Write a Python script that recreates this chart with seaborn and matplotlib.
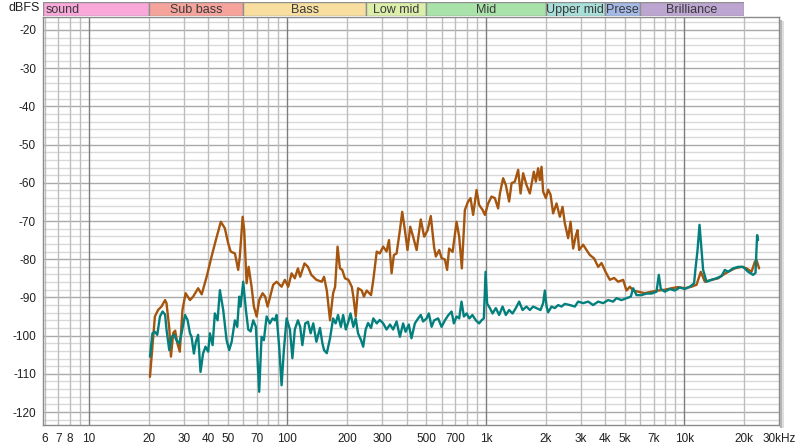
import matplotlib
matplotlib.use("Agg")
import matplotlib.pyplot as plt
import seaborn as sns
from matplotlib.patches import Rectangle
from matplotlib.ticker import NullLocator, NullFormatter

sns.set_theme(style="white")
plt.rcParams['font.family'] = ['Liberation Sans', 'DejaVu Sans']

# ── data ─────────────────────────────────────────────────────
orange_hz = [20.3, 20.7, 21.5, 22.3, 23.2, 24.2, 24.6, 25.4, 25.9, 26.6, 27.2, 27.9, 28.7, 29.6,
             30.7, 32.3, 33.5, 35.5, 37.0, 39.2, 41.5, 43.6, 46.2, 48.4, 50.3, 51.8, 54.4, 56.5,
             57.6, 59.5, 60.6, 62.3, 63.8, 66.0, 67.8, 70.0, 72.1, 75.0, 77.3, 79.5, 84.8, 88.2,
             93.5, 97.1, 101, 105, 109, 113, 116, 122, 127, 132, 140, 149, 153, 158, 164, 170,
             174, 179, 184, 189, 195, 203, 211, 215, 221, 227, 237, 243, 251, 264, 271, 282,
             292, 304, 316, 325, 335, 344, 355, 369, 379, 391, 403, 416, 430, 448, 470, 489,
             509, 528, 549, 560, 582, 598, 622, 638, 653, 680, 712, 734, 757, 784, 814, 837,
             863, 898, 925, 963, 989, 1027, 1068, 1110, 1153, 1177, 1222, 1261, 1310, 1348,
             1400, 1455, 1496, 1542, 1603, 1666, 1745, 1786, 1834, 1871, 1908, 1944, 2006,
             2060, 2118, 2183, 2271, 2360, 2435, 2500, 2598, 2672, 2754, 2842, 2897, 2951,
             3092, 3216, 3342, 3513, 3680, 3828, 4009, 4214, 4429, 4640, 4917, 5114, 5314,
             5522, 5851, 6324, 6836, 7379, 7978, 8620, 9308, 10060, 10870, 11520, 12110,
             12690, 13710, 14800, 15690, 16620, 17970, 19420, 20580, 21810, 22660, 23100, 23820]
orange_db = [-110.8, -105.5, -95, -93.3, -92.4, -90.7, -91.5, -98, -105.5, -99.3, -98.7, -102, -104.2, -93.3,
             -88.9, -90.7, -89.8, -87.6, -89.2, -84.6, -79.3, -75, -70.2, -71.9, -75.8, -78, -78.5, -82.8,
             -79.3, -68.9, -72.4, -86.3, -82, -87.2, -92.4, -95, -90.7, -88.9, -89.8, -92.4, -86.7, -85.9,
             -87.2, -85.4, -87.2, -83.7, -85, -82.4, -84.6, -81.1, -82, -84.1, -85.4, -85.9, -84.6, -88.2, -96, -88.9,
             -87.2, -76.7, -82.4, -82.8, -85, -85.4, -87.2, -89.8, -95, -87.6, -88.2, -89.8, -88.2, -89.4, -85.4, -78,
             -78.5, -76.7, -78, -75, -83.7, -78.9, -78.5, -72.4, -67.6, -72.4, -77.6, -71.5, -74.1, -77.6, -69.6, -74.1,
             -72.4, -68.7, -77, -79.3, -77.6, -79.7, -80.1, -82.8, -77.2, -78.1, -70.2, -74.1, -82.4, -67.1, -64.9, -64,
             -68.4, -61.9, -65.8, -67.1, -68.4, -65.4, -63.6, -64, -66.7, -62.8, -58.8, -60.6, -64.9, -60.1,
             -59.7, -56.6, -62.8, -57.5, -60.6, -62.8, -57.1, -59.7, -56.2, -59.3, -55.8, -62.3, -64,
             -61.8, -63.1, -68, -65.4, -68.9, -66.3, -70.6, -74.5, -70.2, -77.2, -73.8, -72.4, -77.6,
             -76.2, -77.6, -78.9, -79.8, -82, -81, -83.3, -85.4, -84.9, -85.9, -85.4, -88.2, -87.2,
             -88.2, -88.5, -88.9, -88.5, -88.2, -88, -87.6, -87.3, -87.6, -87.2, -86.7, -83.3,
             -85.9, -85.4, -85, -84.1, -83.3, -82.4, -82, -82.4, -83.3, -80.7, -80.2, -82.4]

teal_hz = [20.3, 20.9, 21.5, 22.1, 22.8, 23.5, 24.2, 24.6, 25.4, 26.1, 26.9, 27.6, 28.5, 29.3,
           30.5, 31.4, 32.3, 32.9, 33.8, 34.6, 35.5, 36.5, 37.6, 38.7, 39.9, 40.7, 42.0, 43.1,
           44.5, 45.7, 47.5, 49.4, 50.9, 52.4, 54.4, 55.9, 57.2, 58.1, 59.9, 61.8, 63.5, 65.3,
           67.3, 69.4, 72.1, 74.1, 76.1, 78.6, 81.6, 84.2, 86.5, 88.2, 90.9, 93.5, 96.0, 99.1,
           103, 106, 109, 113, 116, 119, 123, 127, 131, 135, 140, 146, 150, 153, 158, 164,
           170, 175, 180, 186, 191, 197, 203, 208, 215, 221, 227, 235, 241, 248, 255, 264,
           271, 282, 292, 304, 316, 329, 341, 355, 369, 383, 394, 409, 422, 439, 456, 470,
           483, 503, 516, 533, 549, 575, 598, 622, 646, 672, 690, 712, 734, 754, 775, 800,
           826, 856, 890, 925, 951, 977, 997, 1015, 1048, 1081, 1123, 1167, 1214, 1261, 1310,
           1363, 1416, 1472, 1531, 1603, 1666, 1731, 1800, 1886, 1944, 1983, 2023, 2060,
           2143, 2226, 2314, 2406, 2500, 2650, 2809, 2917, 3092, 3277, 3472, 3680, 3898,
           4131, 4378, 4553, 4826, 5114, 5377, 5522, 5743, 6086, 6450, 6836, 7243, 7439,
           7614, 7978, 8453, 8956, 9491, 10060, 10660, 11200, 11390, 11660, 11930, 12210,
           12440, 12940, 13710, 14530, 15400, 16000, 16620, 17610, 18660, 19780, 20960,
           22220, 22840, 23270, 23540]
teal_db = [-105.5, -99.4, -99, -99.8, -95, -93.7, -94.5, -98.4, -103.8, -100.3, -99.8, -101.2, -102.1, -99.4,
           -94.6, -95.9, -99.4, -100.3, -104.7, -101.6, -99.8, -109.5, -104.7, -102.9, -104.2, -99.4, -102.5, -94.2,
           -96, -88.1, -93.3, -101.2, -103.8, -101.6, -96, -97.7, -89.8, -92.4, -85.9, -93.3, -98.4, -98.9,
           -96, -97.7, -114.7, -100.3, -101.2, -95, -96.8, -95.5, -96, -94.6, -102.9, -113, -103.8, -95.5,
           -98.4, -105.9, -98.4, -96, -97.7, -102.5, -96.8, -96.4, -99.4, -96.8, -101.6, -98, -101.9, -103.8, -104.6, -100.7,
           -95.5, -96.8, -94.6, -97.7, -94.6, -98.4, -96.3, -94.2, -97.7, -95.5, -99.4, -101.2, -102.9, -98.4, -96.7, -98,
           -95.5, -96.8, -95.9, -96.8, -98.4, -97.1, -98.4, -96.3, -100.3, -96.8, -99, -97.1, -100.7, -96.8, -95.5, -94.6,
           -96.3, -95.5, -94.2, -97.7, -96, -95.5, -97.7, -96, -94.7, -93.7, -96.8, -95, -95.5, -91.1, -95, -94.2,
           -95.5, -94.6, -96, -96.8, -96, -95.5, -83.3, -91.6, -92.8, -94.2, -92.8, -94.6, -92.4, -94.6, -93.3,
           -94.2, -92.8, -91.1, -93.3, -92.4, -93.3, -92.4, -92.8, -93.3, -91.5, -88.2, -92.4, -93.9,
           -92.4, -92.8, -92, -92.4, -91.7, -92, -92.4, -91.1, -91.5, -91.1, -92, -91.1, -91.5,
           -90.7, -91.1, -90.2, -90.7, -90.2, -89.8, -87.6, -89.4, -89.4, -89, -89, -88.5, -84.1,
           -87.8, -88.5, -87.8, -88.2, -87.4, -87.8, -87.2, -86.3, -82.4, -77.6, -71, -77.6,
           -82.8, -85.9, -85.4, -85, -84.4, -82.8, -83.3, -82.4, -82, -82, -83.3,
           -84.1, -83.6, -73.7, -75]

x_ticks = [6, 7, 8, 10, 20, 30, 40, 50, 70, 100, 200, 300, 500, 700,
           1000, 2000, 3000, 4000, 5000, 7000, 10000, 20000, 30000]
x_labels = ['6', '7', '8', '10', '20', '30', '40', '50', '70', '100', '200', '300', '500', '700',
            '1k', '2k', '3k', '4k', '5k', '7k', '10k', '20k', '30kHz']
y_ticks = [-20, -30, -40, -50, -60, -70, -80, -90, -100, -110, -120]

band_names = ['sound', 'Sub bass', 'Bass', 'Low mid', 'Mid', 'Upper mid', 'Prese', 'Brilliance']
band_edges = [5.87, 20, 60, 250, 500, 2000, 4000, 6000, 20000]
band_colors = ['#f9a8d9', '#f6a39c', '#f8dfa0', '#dcefaa', '#a9e3a9', '#a8dfd9', '#a5b9e6', '#bca5d0']

X_MIN, X_MAX = 5.87, 30000
Y_MIN, Y_MAX = -123.4, -16.6

# ── figure layout (pixel-matched to 800x448) ─────────────────
W, H = 800, 448
fig = plt.figure(figsize=(8, 4.48), dpi=100)
ax = fig.add_axes([43 / W, 1 - 425 / H, (779 - 43) / W, (425 - 17) / H])
band_ax = fig.add_axes([43 / W, 1 - 16 / H, (744 - 43) / W, 14 / H])

# grid: 2 dB minor, 10 dB major; log grid with darker decades
for v in range(-124, -15, 2):
    ax.axhline(v, color='#a9a9a9' if v % 10 == 0 else '#d9d9d9', lw=1, zorder=0)
for dec in [1, 10, 100, 1000, 10000]:
    for m in range(1, 10):
        f = m * dec
        if X_MIN < f < X_MAX:
            ax.axvline(f, color='#7d7d7d' if m == 1 else '#bdbdbd', lw=1, zorder=0)

sns.lineplot(x=orange_hz, y=orange_db, ax=ax, color='#a5550d', lw=1.7,
             estimator=None, sort=False, zorder=3)
sns.lineplot(x=teal_hz, y=teal_db, ax=ax, color='#03807e', lw=1.7,
             estimator=None, sort=False, zorder=4)

ax.set_xscale('log')
ax.set_xlim(X_MIN, X_MAX)
ax.set_ylim(Y_MIN, Y_MAX)
ax.set_xticks(x_ticks)
ax.set_xticklabels(x_labels)
ax.xaxis.set_minor_locator(NullLocator())
ax.xaxis.set_minor_formatter(NullFormatter())
ax.set_yticks(y_ticks)
ax.set_yticklabels([str(v) for v in y_ticks])
ax.tick_params(axis='both', length=0, labelsize=8.5, colors='#202020')
ax.tick_params(axis='y', pad=5)
ax.tick_params(axis='x', pad=6)
ax.set_xlabel('')
ax.set_ylabel('')
for s in ax.spines.values():
    s.set_color('#8a8a8a')
    s.set_linewidth(1)

# frequency band header
band_ax.set_xscale('log')
band_ax.set_xlim(X_MIN, 20000)
band_ax.set_ylim(0, 1)
band_ax.axis('off')
for name, lo, hi, col in zip(band_names, band_edges[:-1], band_edges[1:], band_colors):
    band_ax.axvspan(lo, hi, facecolor=col, edgecolor='#8f8f8f', lw=1)
    if name == 'sound':
        band_ax.text(lo * 1.03, 0.45, name, ha='left', va='center', fontsize=9, color='#3a3a3a')
    else:
        band_ax.text((lo * hi) ** 0.5, 0.45, name, ha='center', va='center', fontsize=9,
                     color='#3a3a3a', clip_on=True)

fig.text(40 / W, 1 - 8 / H, 'dBFS', ha='right', va='center', fontsize=9, color='#202020')

# soft shadow on the right of the frame
fig.patches.append(Rectangle((780 / W, 1 - 428 / H), 2 / W, (428 - 20) / H,
                             transform=fig.transFigure, color='#b4b4b4', lw=0))
fig.patches.append(Rectangle((782 / W, 1 - 428 / H), 2 / W, (428 - 21) / H,
                             transform=fig.transFigure, color='#dedede', lw=0))

fig.savefig('out.png', dpi=100)
